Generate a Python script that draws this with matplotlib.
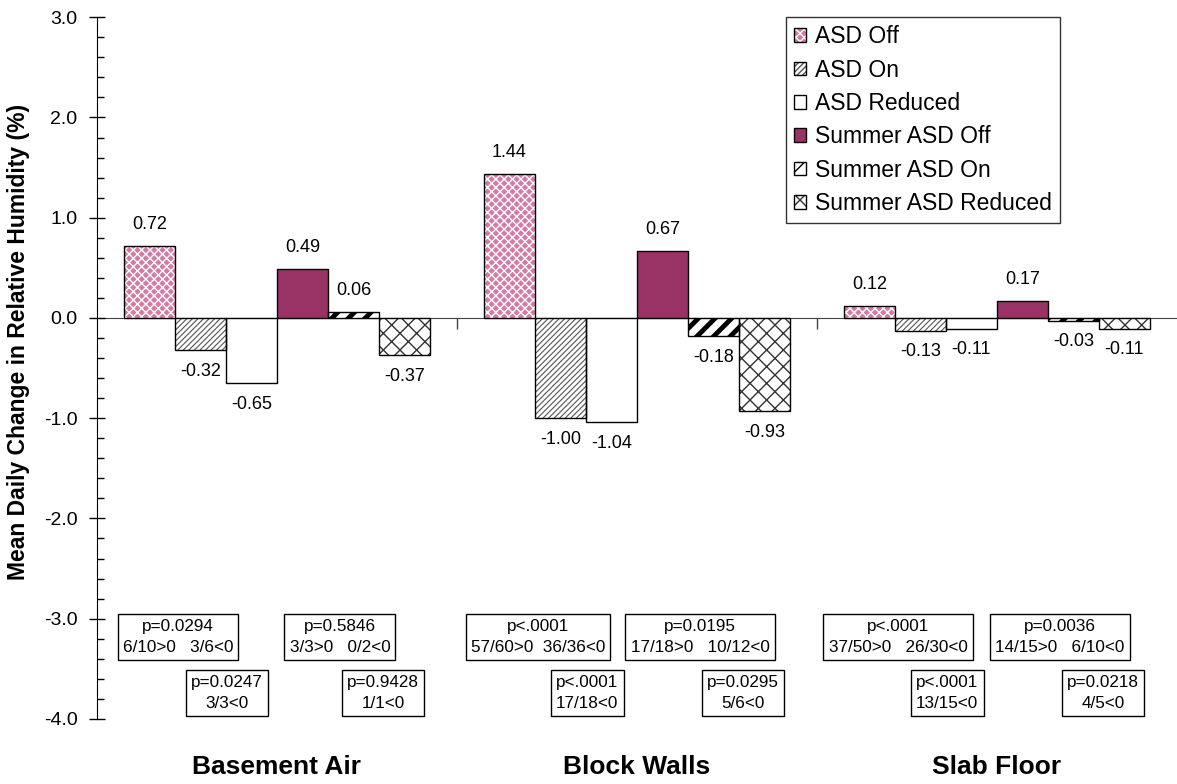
import numpy as np
import matplotlib.pyplot as plt
from matplotlib.patches import Patch
from matplotlib.transforms import blended_transform_factory

plt.rcParams['font.family'] = ['Liberation Sans', 'DejaVu Sans']

locations = ["Basement Air", "Block Walls", "Slab Floor"]
series = ["ASD Off", "ASD On", "ASD Reduced",
          "Summer ASD Off", "Summer ASD On", "Summer ASD Reduced"]
asd_off = [0.72, 1.44, 0.12]
asd_on = [-0.32, -1.00, -0.13]
asd_reduced = [-0.65, -1.04, -0.11]
summer_off = [0.49, 0.67, 0.17]
summer_on = [0.06, -0.18, -0.03]
summer_reduced = [-0.37, -0.93, -0.11]
values = [asd_off, asd_on, asd_reduced, summer_off, summer_on, summer_reduced]

# p-value boxes: [ASD Off/On, ASD Reduced, Summer Off/On, Summer Reduced]
stats_basement = ["p=0.0294\n6/10>0   3/6<0", "p=0.0247\n3/3<0",
                  "p=0.5846\n3/3>0   0/2<0", "p=0.9428\n1/1<0"]
stats_walls = ["p<.0001\n57/60>0  36/36<0", "p<.0001\n17/18<0",
               "p=0.0195\n17/18>0   10/12<0", "p=0.0295\n5/6<0"]
stats_slab = ["p<.0001\n37/50>0   26/30<0", "p<.0001\n13/15<0",
              "p=0.0036\n14/15>0   6/10<0", "p=0.0218\n4/5<0"]
stats = [stats_basement, stats_walls, stats_slab]

# (face, hatch, hatch colour, hatch lw)
styles = [
    ("#d47aa5", "xxxx", "white", 1.0),
    ("white", "//////", "#555555", 0.8),
    ("white", "", "black", 1.0),
    ("#993366", "", "black", 1.0),
    ("white", "//", "black", 3.5),
    ("white", "xx", "#333333", 1.0),
]

fig = plt.figure(figsize=(11.77, 7.84), dpi=100)
ax = fig.add_axes([0.0824, 0.083, 0.9176, 0.895])

width = 0.85 / 6
groups = np.arange(len(locations))


def styled(p, face, hatch, hcol, hlw):
    p.set_facecolor(face)
    p.set_hatch(hatch)
    p.set_edgecolor(hcol)
    p.set_linewidth(0)
    if hasattr(p, "set_hatch_linewidth"):
        p.set_hatch_linewidth(hlw)
    return p


for j, (name, vals) in enumerate(zip(series, values)):
    face, hatch, hcol, hlw = styles[j]
    x = groups + 0.075 + width * (j + 0.5)
    bars = ax.bar(x, vals, width, zorder=2)
    for b in bars:
        styled(b, face, hatch, hcol, hlw)
    ax.bar(x, vals, width, facecolor="none", edgecolor="black",
           linewidth=1.0, zorder=3)
    for xi, v in zip(x, vals):
        off = 9 if v >= 0 else -9
        ax.annotate(f"{v:.2f}", (xi, v), xytext=(0, off),
                    textcoords="offset points", ha="center",
                    va="bottom" if v >= 0 else "top", fontsize=13)

box_dx = [0.225, 0.362, 0.675, 0.795]
box_y = [-3.18, -3.74, -3.18, -3.74]
for g in groups:
    for k, txt in enumerate(stats[g]):
        ax.text(g + box_dx[k], box_y[k], txt, ha="center", va="center",
                multialignment="center", fontsize=12.3, linespacing=1.5,
                bbox=dict(boxstyle="square,pad=0.3", facecolor="white",
                          edgecolor="black", linewidth=1.0), zorder=4)

ax.set_xlim(0, 3)
ax.set_ylim(-4, 3)
ax.set_yticks(np.arange(-4, 3.1, 1.0))
ax.set_yticklabels([f"{t:.1f}" for t in np.arange(-4, 3.1, 1.0)], fontsize=14)
ax.set_yticks(np.arange(-4, 3.01, 0.2), minor=True)
ax.tick_params(axis="y", which="major", direction="inout", length=12,
               width=1, pad=8)
ax.tick_params(axis="y", which="minor", direction="in", length=5, width=1)
ax.set_xticks([1, 2])
ax.set_xticklabels([])
ax.tick_params(axis="x", which="major", direction="out", length=8,
               width=1, color="#444444")
for s in ["top", "right"]:
    ax.spines[s].set_visible(False)
ax.spines["bottom"].set_position(("data", 0))
ax.spines["bottom"].set_color("#444444")
ax.spines["bottom"].set_zorder(1)

trans = blended_transform_factory(ax.transData, ax.transAxes)
for g, name in zip(groups, locations):
    ax.text(g + 0.5, -0.068, name, transform=trans, ha="center", va="center",
            fontsize=19, fontweight="bold")

ax.set_ylabel("Mean Daily Change in Relative Humidity (%)", fontsize=16.5,
              fontweight="bold")
ax.yaxis.set_label_coords(-0.062, 0.537)

handles = []
for face, hatch, hcol, hlw in styles:
    fill = styled(Patch(), face, hatch, hcol, hlw)
    edge = Patch(facecolor="none", edgecolor="black", linewidth=1.0)
    handles.append((fill, edge))
leg = ax.legend(handles, series, loc="upper right",
                bbox_to_anchor=(0.892, 1.0), fontsize=16.5, frameon=True,
                fancybox=False, edgecolor="black", handlelength=0.55,
                handleheight=0.55, handletextpad=0.4, labelspacing=0.45,
                borderpad=0.35, borderaxespad=0)
leg.get_frame().set_linewidth(1.0)

fig.savefig("out.png", dpi=100)
